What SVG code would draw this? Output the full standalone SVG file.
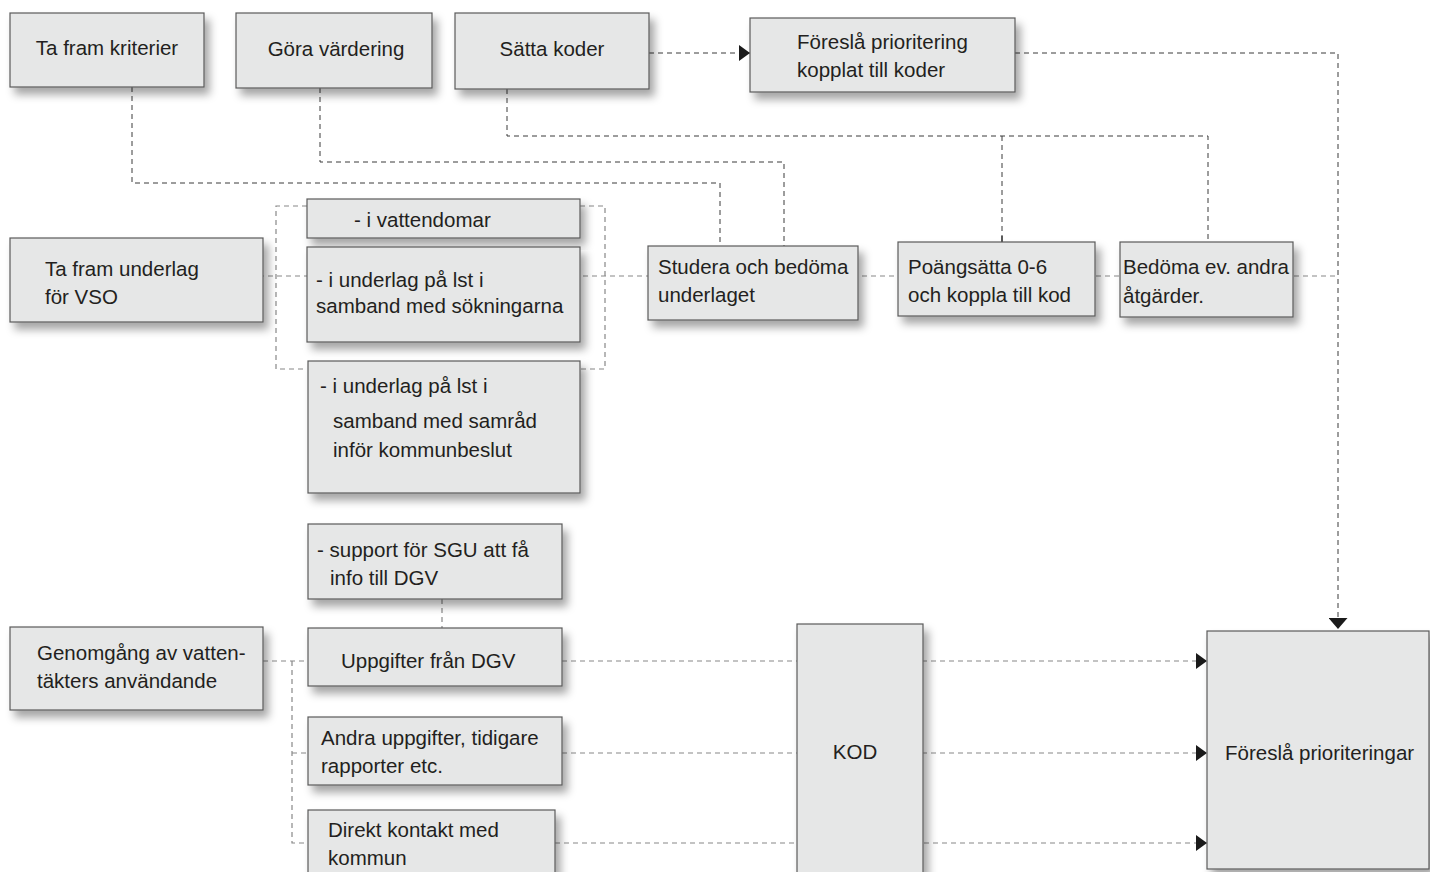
<svg xmlns="http://www.w3.org/2000/svg" width="1430" height="872" viewBox="0 0 1430 872">
<style>
.box{fill:#e6e7e7;stroke:#5a5a5a;stroke-width:1.2}
.t{font-family:"Liberation Sans",Arial,sans-serif;font-size:20.5px;fill:#231f20}
.c{fill:none;stroke:#3a3a3a;stroke-width:1;stroke-dasharray:5 4}
.cl{fill:none;stroke:#888;stroke-width:1.2;stroke-dasharray:5 4}
.s{fill:none;stroke:#222;stroke-width:1.5}
</style>
<defs>
<filter id="sh" x="-10%" y="-10%" width="130%" height="140%">
<feDropShadow dx="5" dy="7" stdDeviation="4.5" flood-color="#000" flood-opacity="0.35"/>
</filter>
<marker id="ah" markerUnits="userSpaceOnUse" markerWidth="11" markerHeight="16" viewBox="0 0 11 16" refX="11" refY="8" orient="auto">
<path d="M0,0 L11,8 L0,16 z" fill="#1a1a1a"/>
</marker>
<marker id="ahd" markerUnits="userSpaceOnUse" markerWidth="11" markerHeight="19" viewBox="0 0 11 19" refX="11" refY="9.5" orient="auto">
<path d="M0,0 L11,9.5 L0,19 z" fill="#1a1a1a"/>
</marker>
</defs>
<rect width="1430" height="872" fill="#fff"/>
<g id="connectors">
<path class="c" d="M132,87 V183 H720 V246"/>
<path class="c" d="M320,88 V162 H784 V246"/>
<path class="c" d="M507,89 V136 H1208 V242"/>
<path class="c" d="M1002,136 V236"/>
<path class="s" d="M1002,236 V242"/>
<path class="c" d="M649,53 H750" marker-end="url(#ah)"/>
<path class="c" d="M1015,53 H1338 V629" marker-end="url(#ahd)"/>
<path class="cl" d="M250,276 H1338"/>
<path class="cl" d="M307,206 H276 V369 H304"/>
<path class="cl" d="M580,206 H605 V369 H580"/>
<path class="cl" d="M442,599 V628"/>
<path class="cl" d="M263,661 H308"/>
<path class="cl" d="M292,661 V843 H308"/>
<path class="cl" d="M292,753 H308"/>
<path class="cl" d="M562,661 H1207" marker-end="url(#ah)"/>
<path class="cl" d="M562,753 H1207" marker-end="url(#ah)"/>
<path class="cl" d="M555,843 H1207" marker-end="url(#ah)"/>
</g>
<g id="n-kriterier"><rect class="box" filter="url(#sh)" x="10" y="13" width="194" height="74"/><text class="t" x="107" y="55" text-anchor="middle">Ta fram kriterier</text></g>
<g id="n-vardering"><rect class="box" filter="url(#sh)" x="236" y="13" width="196" height="75"/><text class="t" x="336" y="56" text-anchor="middle">Göra värdering</text></g>
<g id="n-koder"><rect class="box" filter="url(#sh)" x="455" y="13" width="194" height="76"/><text class="t" x="552" y="56" text-anchor="middle">Sätta koder</text></g>
<g id="n-foreslaprio"><rect class="box" filter="url(#sh)" x="750" y="18" width="265" height="74"/><text class="t" x="797" y="49">Föreslå prioritering</text><text class="t" x="797" y="77">kopplat till koder</text></g>
<g id="n-studera"><rect class="box" filter="url(#sh)" x="648" y="246" width="210" height="74"/><text class="t" x="658" y="274">Studera och bedöma</text><text class="t" x="658" y="302">underlaget</text></g>
<g id="n-poang"><rect class="box" filter="url(#sh)" x="898" y="242" width="197" height="74"/><text class="t" x="908" y="274">Poängsätta 0-6</text><text class="t" x="908" y="302">och koppla till kod</text></g>
<g id="n-bedoma"><rect class="box" filter="url(#sh)" x="1120" y="242" width="173" height="75"/><text class="t" x="1123" y="274">Bedöma ev. andra</text><text class="t" x="1123" y="303">åtgärder.</text></g>
<g id="n-underlag"><rect class="box" filter="url(#sh)" x="10" y="238" width="253" height="84"/><text class="t" x="45" y="276">Ta fram underlag</text><text class="t" x="45" y="304">för VSO</text></g>
<g id="n-vattendomar"><rect class="box" filter="url(#sh)" x="307" y="199" width="273" height="39"/><text class="t" x="354" y="227">- i vattendomar</text></g>
<g id="n-sokningarna"><rect class="box" filter="url(#sh)" x="307" y="247" width="273" height="95"/><text class="t" x="316" y="287">- i underlag på lst i</text><text class="t" x="316" y="313">samband med sökningarna</text></g>
<g id="n-samrad"><rect class="box" filter="url(#sh)" x="308" y="361" width="272" height="132"/><text class="t" x="320" y="393">- i underlag på lst i</text><text class="t" x="333" y="428">samband med samråd</text><text class="t" x="333" y="457">inför kommunbeslut</text></g>
<g id="n-support"><rect class="box" filter="url(#sh)" x="308" y="524" width="254" height="75"/><text class="t" x="317" y="557">- support för SGU att få</text><text class="t" x="330" y="585">info till DGV</text></g>
<g id="n-genomgang"><rect class="box" filter="url(#sh)" x="10" y="627" width="253" height="83"/><text class="t" x="37" y="660">Genomgång av vatten-</text><text class="t" x="37" y="688">täkters användande</text></g>
<g id="n-dgv"><rect class="box" filter="url(#sh)" x="308" y="628" width="254" height="58"/><text class="t" x="341" y="668">Uppgifter från DGV</text></g>
<g id="n-andra"><rect class="box" filter="url(#sh)" x="308" y="717" width="254" height="68"/><text class="t" x="321" y="745">Andra uppgifter, tidigare</text><text class="t" x="321" y="773">rapporter etc.</text></g>
<g id="n-direkt"><rect class="box" filter="url(#sh)" x="308" y="810" width="247" height="80"/><text class="t" x="328" y="837">Direkt kontakt med</text><text class="t" x="328" y="865">kommun</text></g>
<g id="n-kod"><rect class="box" filter="url(#sh)" x="797" y="624" width="126" height="270"/><text class="t" x="855" y="759" text-anchor="middle">KOD</text></g>
<g id="n-prioriteringar"><rect class="box" filter="url(#sh)" x="1207" y="631" width="222" height="238"/><text class="t" x="1225" y="760">Föreslå prioriteringar</text></g>
</svg>
